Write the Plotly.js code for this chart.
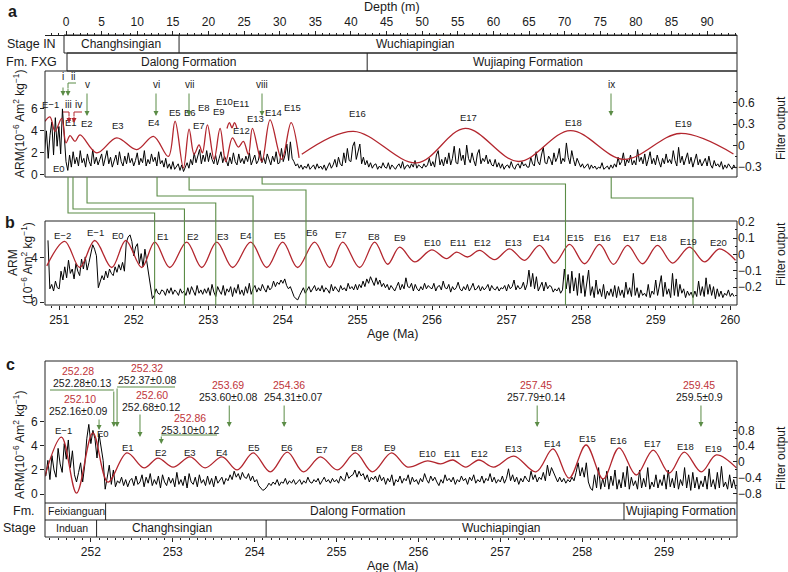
<!DOCTYPE html>
<html><head><meta charset="utf-8">
<script src="https://cdn.plot.ly/plotly-3.0.1.min.js"></script>
<style>html,body{margin:0;padding:0;background:#fff;}#chart{width:788px;height:572px;}</style>
</head><body><div id="chart"></div>
<script>
// ===================== DATA =====================
// Panel a: ARM vs depth (m), regular sampling
const depthA_start = -3.0, depthA_step = 0.25;
const armA = [
2.2,4.0,1.5,3.6,4.8,1.8,5.2,2.6,4.4,1.9,6.0,3.5,
1.2,0.4,1.8,0.7,2.1,1.0,1.6,0.8,2.2,1.1,1.5,0.7,1.9,1.2,0.8,2.3,1.0,1.6,0.9,1.4,
1.9,0.8,1.4,2.2,1.0,1.6,0.7,1.3,1.8,0.9,2.1,1.2,0.8,1.7,1.0,2.0,1.1,1.5,0.8,1.3,
2.0,0.9,1.5,1.1,2.2,0.8,1.4,1.0,1.9,1.2,1.6,0.8,2.1,1.0,1.3,0.7,1.5,0.6,1.0,0.5,
1.2,0.5,0.8,1.0,0.4,0.9,0.3,0.7,1.1,0.6,1.4,0.9,2.0,1.1,1.6,2.3,1.0,1.8,1.2,2.2,
1.2,2.0,1.4,1.0,1.8,0.9,1.5,2.1,1.1,1.7,1.3,0.8,1.6,1.0,2.0,1.2,0.9,1.9,1.1,1.5,
1.0,1.7,1.2,2.0,0.9,1.4,1.8,1.0,1.3,2.2,1.1,1.6,1.0,1.9,1.3,0.9,1.7,1.2,2.1,1.0,
1.1,2.4,1.2,1.8,2.8,1.3,3.0,1.5,1.2,0.8,1.0,0.6,0.9,0.5,0.8,0.6,1.0,0.5,0.7,0.9,
0.5,1.0,0.6,0.8,0.5,0.9,0.4,0.8,1.1,0.6,0.9,1.4,0.7,1.6,1.0,0.8,2.0,1.1,2.4,1.3,
1.2,2.6,3.0,1.4,2.2,2.8,1.0,1.6,0.9,1.3,0.7,1.1,0.6,0.9,1.0,0.5,0.8,0.6,1.1,0.7,
0.6,1.1,0.5,0.9,0.7,0.5,0.8,1.0,0.6,1.2,0.5,0.8,0.9,0.6,1.0,0.7,1.3,0.6,0.9,0.7,
0.6,1.0,0.7,0.9,1.5,0.8,1.2,0.7,1.8,2.2,0.9,1.4,0.8,1.6,1.0,2.0,0.9,1.5,2.6,1.1,
1.0,2.4,1.3,1.8,0.9,2.7,1.5,1.1,2.0,1.3,0.8,1.9,2.3,1.0,1.5,1.2,1.8,1.0,1.4,0.9,
0.8,1.4,0.7,1.1,0.6,1.0,0.5,0.8,0.9,0.6,1.2,0.7,0.5,0.9,1.0,0.6,1.2,0.8,1.0,0.7,
0.7,1.6,1.0,0.8,2.1,1.2,0.9,1.8,2.5,1.1,1.0,1.7,1.4,0.9,2.0,1.2,1.6,2.4,1.0,1.5,
1.2,2.9,1.6,1.0,2.2,1.4,0.8,1.5,1.1,0.7,1.0,0.6,0.8,1.0,0.5,0.9,0.6,0.8,0.5,0.7,
0.6,1.1,0.5,0.7,0.8,0.5,0.9,0.6,1.0,0.7,1.6,0.9,1.2,2.0,0.8,1.4,1.1,1.8,0.9,1.3,
0.9,2.3,1.2,1.6,1.0,1.9,0.8,1.4,2.1,1.0,1.5,0.9,1.8,1.2,0.7,1.5,1.0,1.9,1.1,1.4,
1.0,2.2,1.3,0.8,2.5,1.1,1.7,0.9,1.4,2.0,1.0,1.6,0.7,1.2,1.9,0.9,1.4,0.8,1.1,1.5,
0.8,1.7,0.9,0.6,1.3,0.8,1.0,0.7,1.2,0.5,0.9,0.6,1.0,0.7,0.5,0.9,0.6];
// Panel a: filter output (extrema)
const filtA_depth = [-2.95,-2.25,-1.54,-0.61,0.0,0.56,1.26,1.97,4.31,7.12,9.93,12.27,14.37,15.31,16.48,17.28,17.98,18.68,19.15,19.85,20.79,21.63,22.43,23.36,24.2,24.9,25.61,26.17,27.48,28.65,30.29,31.6,32.72,32.9,33.1,40.35,49.25,56.04,63.53,70.8,78.3,86.2,93.7];
const filtA = [0.34,0.40,0.20,0.38,0.04,0.14,0.06,0.15,-0.10,0.11,-0.055,0.13,-0.15,0.34,-0.31,0.23,-0.12,0.01,-0.10,0.29,-0.19,0.24,-0.22,0.11,-0.02,0.06,-0.12,0.24,-0.22,0.36,-0.19,0.32,-0.17,null,-0.12,0.20,-0.24,0.24,-0.22,0.21,-0.19,0.17,-0.115];
const filtA_arc_depth = [22.6,22.95,23.3,23.65,24.0];
const filtA_arc = [0.24,0.32,0.25,0.32,0.24];

// Panel b: ARM vs age (Ma)
const ageB_start = 250.85, ageB_step = 0.025;
const armB = [
5.6,1.2,1.6,1.0,1.9,1.3,
1.2,2.8,2.0,3.2,2.2,3.8,2.6,3.0,2.1,3.5,2.8,2.4,3.9,3.0,4.1,2.9,3.6,4.6,5.2,4.8,
4.2,1.3,1.8,2.4,2.0,2.8,2.2,3.0,2.6,2.4,3.2,2.7,3.4,2.9,3.6,2.8,5.4,5.9,6.1,5.5,
4.2,5.0,5.3,3.5,4.4,3.2,4.8,3.6,2.6,1.5,0.3,0.6,1.2,0.8,0.7,1.1,1.0,0.6,1.2,0.8,
1.3,0.7,1.1,0.9,0.6,1.2,0.8,1.0,0.6,1.3,0.7,1.4,0.9,0.6,1.5,0.8,1.1,0.7,1.2,0.8,
1.3,0.6,1.6,0.9,0.5,1.4,1.0,0.7,1.5,0.6,1.2,0.9,1.4,0.5,1.3,0.8,1.6,0.7,1.1,0.6,
1.4,0.8,1.7,0.7,1.2,1.5,0.9,1.3,1.0,1.6,1.2,0.9,1.5,1.1,1.3,1.9,1.4,1.8,1.6,2.0,
1.7,2.1,1.5,1.2,1.4,0.9,0.5,0.3,0.2,0.6,0.9,1.3,0.8,1.1,1.4,0.9,1.2,1.5,1.0,1.3,
1.0,1.5,0.9,1.3,1.1,0.8,1.6,1.0,1.4,1.2,0.9,1.5,1.1,1.3,1.0,1.7,1.2,1.4,1.1,1.6,
1.1,1.6,1.3,1.9,1.4,2.1,1.7,2.3,1.8,1.5,2.2,1.6,2.0,1.4,1.7,1.3,1.6,1.1,1.5,1.2,
1.0,1.4,1.8,1.1,1.6,1.2,2.2,1.4,1.3,1.7,1.0,1.6,1.2,1.0,1.4,1.1,1.7,1.2,1.5,1.3,
1.2,1.7,1.0,1.4,1.5,1.1,1.9,1.3,1.2,1.6,0.9,1.4,1.1,1.3,1.8,1.2,1.0,1.4,1.1,1.6,
1.0,1.3,1.7,1.1,1.2,1.5,1.0,1.4,1.1,1.3,1.6,1.0,1.5,1.2,1.1,1.4,1.0,1.3,1.2,1.5,
1.0,1.6,1.2,1.4,2.0,1.1,1.5,1.2,1.3,1.8,1.1,1.6,2.9,1.4,2.6,1.2,2.3,1.0,1.5,1.8,
1.0,1.8,1.2,1.5,1.4,0.9,1.2,1.0,1.3,0.8,1.1,3.0,1.2,2.5,0.8,2.8,1.0,2.2,0.6,2.6,
0.8,2.4,0.5,1.8,2.9,0.6,1.4,0.4,2.0,0.7,1.2,0.5,1.6,0.3,1.0,0.6,1.2,0.5,1.5,0.4,
1.4,0.6,1.1,0.4,1.8,0.7,1.3,0.5,2.6,0.6,1.3,0.4,1.1,0.6,0.8,0.5,1.6,0.4,1.0,0.7,
2.0,0.6,1.4,2.4,0.5,1.8,0.7,1.2,0.4,2.6,0.6,2.1,0.5,1.6,0.8,1.2,0.4,1.0,0.6,0.9,
0.4,1.0,0.5,1.9,0.6,1.4,0.5,2.2,0.7,1.6,0.6,1.4,0.3,1.2,0.5,1.0,0.4,0.8,0.6,1.1,
0.5,0.8,0.5];
const filtB_age = [250.834,251.075,251.276,251.477,251.705,251.893,252.107,252.282,252.483,252.710,252.912,253.113,253.327,253.568,253.783,253.997,254.198,254.426,254.627,254.802,255.029,255.231,255.405,255.566,255.767,255.995,256.196,256.330,256.477,256.638,256.839,257.040,257.241,257.442,257.643,257.845,258.046,258.247,258.434,258.622,258.823,259.024,259.225,259.453,259.654,259.855,260.070];
const filtB = [-0.07,0.08,-0.08,0.085,-0.08,0.085,-0.08,0.075,-0.08,0.075,-0.08,0.075,-0.08,0.075,-0.08,0.075,-0.08,0.075,-0.08,0.075,-0.08,0.075,-0.06,0.044,-0.046,0.028,-0.026,0.014,-0.016,0.024,-0.032,0.034,-0.036,0.055,-0.053,0.061,-0.057,0.061,-0.061,0.055,-0.057,0.055,-0.053,0.044,-0.046,0.034,-0.036];

// Panel c: ARM vs age (Ma)
const ageC_start = 251.45, ageC_step = 0.025;
const armC = [
1.5,2.8,
1.2,3.2,2.0,1.4,3.8,2.5,1.8,4.2,2.9,4.5,2.2,3.6,1.6,1.0,1.8,2.6,1.0,2.4,4.6,5.8,
4.2,5.3,4.6,3.0,5.0,4.0,2.8,0.4,1.6,2.4,0.8,2.0,0.6,1.1,0.9,1.4,0.7,1.2,0.6,1.1,
1.3,0.7,1.5,0.8,1.0,1.6,0.6,1.4,0.9,1.7,0.7,1.2,0.8,1.5,0.5,1.6,1.0,0.7,1.4,0.9,
1.3,0.6,1.8,0.8,1.2,0.7,1.5,0.5,1.7,1.0,0.8,1.4,0.6,1.6,0.9,1.2,0.7,1.5,0.8,1.3,
0.6,1.5,0.9,1.2,1.4,0.8,1.3,1.1,1.6,1.2,1.9,1.4,1.7,1.2,1.8,1.4,1.3,1.7,1.1,1.5,
1.0,1.2,0.7,0.5,0.3,0.4,0.6,0.9,0.7,1.0,0.8,1.2,0.7,1.0,0.9,1.3,0.8,1.1,0.9,1.2,
0.8,1.0,1.2,0.8,1.1,0.9,1.4,1.0,0.9,1.2,1.0,1.3,0.8,1.1,1.4,1.0,1.2,0.9,1.3,1.0,
1.2,0.9,1.5,1.2,1.1,1.8,1.3,1.5,1.6,2.0,1.4,1.9,1.5,1.7,1.2,1.6,1.0,1.4,1.2,1.5,
1.0,1.6,1.1,1.4,0.8,1.3,1.0,1.6,0.7,1.2,1.0,1.5,0.9,1.3,1.1,1.6,0.8,1.4,1.0,1.2,
0.8,1.3,1.0,1.7,1.2,0.9,1.5,1.1,1.4,1.0,0.7,1.2,0.9,1.6,1.1,1.3,1.0,1.4,0.8,1.2,
1.0,1.5,1.1,1.3,0.8,1.4,1.1,1.6,0.9,1.2,1.0,1.5,0.9,1.3,1.1,1.7,1.0,1.4,0.9,1.2,
1.0,1.5,0.9,1.3,2.1,1.1,1.6,1.0,1.4,0.8,1.3,1.0,1.5,1.2,1.0,1.9,1.2,1.6,1.0,1.4,
1.2,1.8,1.1,2.4,1.5,2.2,1.8,1.3,1.0,1.4,1.0,1.3,0.9,1.2,1.0,1.4,1.1,1.8,2.6,1.5,
2.2,1.4,2.6,1.0,0.5,0.3,1.6,0.5,2.2,0.4,1.3,0.6,1.9,0.4,1.5,0.7,2.0,0.4,1.2,0.5,
1.8,0.6,2.3,0.4,1.4,0.7,1.1,0.4,2.0,0.5,1.3,0.6,2.2,0.4,1.0,0.6,1.6,0.5,1.2,0.7,
1.6,0.4,2.0,0.6,1.3,0.5,1.9,0.4,1.2,0.7,2.2,0.5,1.6,0.3,1.8,0.5,1.4,0.4,1.1,0.6,
1.5,0.4,2.1,0.6,1.2,0.4,1.8,0.5,2.3,0.6,1.0,0.4,1.6,0.5,1.2,0.4];
const filtC_age = [251.437,251.641,251.825,252.024,252.208,252.441,252.649,252.820,253.004,253.212,253.395,253.603,253.787,253.983,254.191,254.399,254.595,254.803,255.011,255.231,255.439,255.672,255.868,256.113,256.272,256.419,256.578,256.737,256.920,257.165,257.435,257.643,257.839,258.047,258.255,258.450,258.659,258.867,259.063,259.246,259.454,259.638,259.883];
const filtC = [-0.37,0.63,-0.79,0.74,-0.51,0.23,-0.15,0.10,-0.13,0.13,-0.15,0.13,-0.20,0.23,-0.25,0.25,-0.25,0.13,-0.20,0.23,-0.25,0.23,-0.13,0.03,-0.05,0.05,-0.13,0.05,-0.13,0.15,-0.25,0.33,-0.41,0.43,-0.43,0.36,-0.33,0.30,-0.28,0.25,-0.25,0.18,-0.15];

// Labels
const eLabelsA = ['E−1','E0','E1','E2','E3','E4','E5','E6','E7','E8','E9','E10','E11','E12','E13','E14','E15','E16','E17','E18','E19'];
const eLabelsB = ['E−2','E−1','E0','E1','E2','E3','E4','E5','E6','E7','E8','E9','E10','E11','E12','E13','E14','E15','E16','E17','E18','E19','E20'];
const eLabelsC = ['E−1','E0','E1','E2','E3','E4','E5','E6','E7','E8','E9','E10','E11','E12','E13','E14','E15','E16','E17','E18','E19'];
const romanA = ['i','ii','iii','iv','v','vi','vii','viii','ix'];
const tieDepth = [0.28,0.98,2.95,12.78,17.28,27.53,76.54];
const tieAge = [252.28,252.68,253.10,253.60,254.31,257.79,259.5];
const tunedAge = [252.10,252.28,252.32,252.60,252.86,253.69,254.36,257.45,259.45];
const tunedText = ['252.10','252.28','252.32','252.60','252.86','253.69','254.36','257.45','259.45'];
const radioText = ['252.16±0.09','252.28±0.13','252.37±0.08','252.68±0.12','253.10±0.12','253.60±0.08','254.31±0.07','257.79±0.14','259.5±0.9'];
const stageA = ['Changhsingian','Wuchiapingian'];
const stageA_base = [-0.28,15.87];
const fmA = ['Dalong Formation','Wujiaping Formation'];
const fmA_base = [0.14,42.28];
const fmC = ['Feixianguan','Dalong Formation','Wujiaping Formation'];
const fmC_base = [252.18,258.51];
const stageC = ['Induan','Changhsingian','Wuchiapingian'];
const stageC_base = [252.07,254.14];

// ===================== LAYOUT =====================
const W = 788, H = 572;
const FONT = 'Liberation Sans, Arial, Helvetica, sans-serif';
const GREEN = '#5b8c46', RED = '#b3262e', REDTXT = '#c0343a', INK = '#1a1a1a';
const L = 45, R = 737;
const rA = [-2.95, 94.2], rB = [250.81, 260.09], rC = [251.44, 259.89];
const fx = px => px / W, fy = py => 1 - py / H;
const pxA = d => L + (d - rA[0]) / (rA[1] - rA[0]) * (R - L);
const pxB = a => L + (a - rB[0]) / (rB[1] - rB[0]) * (R - L);
const pxC = a => L + (a - rC[0]) / (rC[1] - rC[0]) * (R - L);

const ann = [], shapes = [];
function T(px, py, text, size, color, opts) {
  const o = Object.assign({xanchor:'center', yanchor:'middle', textangle:0}, opts || {});
  ann.push({xref:'paper', yref:'paper', x:fx(px), y:fy(py), text:text, showarrow:false,
    xanchor:o.xanchor, yanchor:o.yanchor, textangle:o.textangle,
    font:{family:FONT, size:size, color:color || INK}});
}
function ARW(px, tipPy, len, color) {
  ann.push({xref:'paper', yref:'paper', x:fx(px), y:fy(tipPy), ax:0, ay:-len, text:'',
    showarrow:true, arrowhead:2, arrowsize:1, arrowwidth:1, arrowcolor:color});
}
function rect(x0, y0, x1, y1) {
  shapes.push({type:'rect', xref:'paper', yref:'paper', x0:fx(x0), x1:fx(x1), y0:fy(y1), y1:fy(y0),
    line:{color:'#222', width:1}, fillcolor:'rgba(0,0,0,0)'});
}
function path(pts, color, width) {
  shapes.push({type:'path', xref:'paper', yref:'paper',
    path:'M' + pts.map(p => fx(p[0]) + ',' + fy(p[1])).join('L'),
    line:{color:color, width:width || 1}});
}

// frames and strata rows
rect(L, 71, R, 177);
rect(64, 35, R, 53);
rect(67, 53, R, 71);
path([[pxA(stageA_base[1]),35],[pxA(stageA_base[1]),53]], '#222');
path([[pxA(fmA_base[1]),53],[pxA(fmA_base[1]),71]], '#222');
rect(L, 221, R, 305);
rect(L, 361, R, 537);
path([[L,503],[R,503]], '#222');
path([[L,520],[R,520]], '#222');
fmC_base.forEach(a => path([[pxC(a),503],[pxC(a),520]], '#222'));
stageC_base.forEach(a => path([[pxC(a),520],[pxC(a),537]], '#222'));

// strata labels
T(31, 44, 'Stage IN', 12.5);
T(31, 62, 'Fm. FXG', 12.5);
T(121, 44, stageA[0], 12);
T(415, 44, stageA[1], 12);
T(188, 62, fmA[0], 12);
T(528, 62, fmA[1], 12);
T(37, 511, 'Fm.', 12.5, INK, {xanchor:'right'});
T(38, 528, 'Stage', 12.5, INK, {xanchor:'right'});
T(76, 511, fmC[0], 10.5);
T(357, 511, fmC[1], 12);
T(681, 511, fmC[2], 12);
T(72, 528, stageC[0], 10.5);
T(172, 528, stageC[1], 12);
T(501, 528, stageC[2], 12);

// panel letters & titles
T(12, 12, '<b>a</b>', 16);
T(10, 223, '<b>b</b>', 16);
T(10, 364, '<b>c</b>', 16);
T(392, 7, 'Depth (m)', 12.5);
T(392, 334, 'Age (Ma)', 12.5);
T(392, 566, 'Age (Ma)', 12.5);
const armTitle = 'ARM(10<sup>−6</sup> Am<sup>2</sup> kg<sup>−1</sup>)';
T(19, 124, armTitle, 12, INK, {textangle:-90});
T(13, 263, 'ARM', 12, INK, {textangle:-90});
T(27, 263, '(10<sup>−6</sup> Am<sup>2</sup> kg<sup>−1</sup>)', 12, INK, {textangle:-90});
T(19, 445, armTitle, 12, INK, {textangle:-90});
T(781, 128, 'Filter output', 12, INK, {textangle:-90});
T(781, 254, 'Filter output', 12, INK, {textangle:-90});
T(781, 458, 'Filter output', 12, INK, {textangle:-90});

// E labels
const posA = [[50,105],[59,168],[71,122],[87,124],[118,125],[154,122],[175,113],[190,112],[199,125],[204,108],[219,111],[224,101],[241,103],[242,130],[256,119],[273,113],[292,108],[357,114],[468,117],[573,122],[683,124]];
eLabelsA.forEach((t,i) => T(posA[i][0], posA[i][1], t, 9.5));
const posB = [[62,235],[95,233],[118,235],[163,236],[193,236],[223,236],[246,235],[280,235],[312,233],[341,234],[374,236],[400,237],[432,242],[458,243],[482,243],[513,242],[541,238],[575,238],[602,238],[631,238],[658,238],[688,241],[718,242]];
eLabelsB.forEach((t,i) => T(posB[i][0], posB[i][1], t, 9.5));
const posC = [[63,430],[103,433],[128,447],[161,452],[190,452],[222,452],[254,447],[287,447],[322,449],[357,447],[390,447],[427,453],[452,453],[479,453],[513,448],[552,443],[587,438],[618,440],[652,443],[685,446],[713,448]];
eLabelsC.forEach((t,i) => T(posC[i][0], posC[i][1], t, 9.5));

// roman numeral markers, panel a
const romPos = [[63,77],[73,76],[68,105],[78,105],[87,85],[156,85],[189,85],[262,85],[611,85]];
romanA.forEach((t,i) => T(romPos[i][0], romPos[i][1], t, 10));
ARW(63, 96, 10, GREEN);
path([[76,83],[68,83],[68,88]], GREEN);
ARW(68, 96, 9, GREEN);
path([[63,112],[69,112],[69,116]], RED);
path([[74,116],[74,112],[82,112]], RED);
ARW(69, 123, 8, RED);
ARW(74, 123, 8, RED);
[87,156,189,262,611].forEach(x => ARW(x, 116, 24, GREEN));

// green connectors a -> b
const tieLevel = [213,209,203,196,190,184,198];
tieDepth.forEach((d,i) => {
  const xa = pxA(d), xb = pxB(tieAge[i]);
  path([[xa,177],[xa,tieLevel[i]],[xb,tieLevel[i]],[xb,305]], GREEN, 1.1);
});

// panel c dating annotations
const redPos = [[80,399],[78,371],[147,368],[152,395],[190,418],[228,385],[289,385],[536,385],[699,385]];
const blkPos = [[78,411],[82,383],[147,380],[151,407],[190,430],[228,397],[293,397],[536,397],[699,397]];
tunedText.forEach((t,i) => T(redPos[i][0], redPos[i][1], t, 10.5, REDTXT));
radioText.forEach((t,i) => T(blkPos[i][0], blkPos[i][1], t, 10.5, INK));
const tipY = [430,427,427,437,444,427,427,427,427];
const tailY = [418,390,387,413,435,404,404,404,404];
tunedAge.forEach((a,i) => ARW(pxC(a), tipY[i], tipY[i]-tailY[i], GREEN));
path([[50,390],[pxC(tunedAge[1]),390]], GREEN, 1.1);
path([[pxC(tunedAge[2]),387],[175,387]], GREEN, 1.1);
path([[pxC(tunedAge[4]),435],[217,435]], GREEN, 1.1);

// ===================== TRACES =====================
const blk = {color:'#000', width:1};
const redL = {color:RED, width:1.3, shape:'spline', smoothing:1};
const traces = [
  {type:'scatter', mode:'lines', x:filtA_depth, y:filtA, xaxis:'x', yaxis:'y2', line:redL, connectgaps:false},
  {type:'scatter', mode:'lines', x:filtA_arc_depth, y:filtA_arc, xaxis:'x', yaxis:'y2', line:redL},
  {type:'scatter', mode:'lines', x0:depthA_start, dx:depthA_step, y:armA, xaxis:'x', yaxis:'y', line:blk},
  {type:'scatter', mode:'lines', x:filtB_age, y:filtB, xaxis:'x2', yaxis:'y4', line:redL},
  {type:'scatter', mode:'lines', x0:ageB_start, dx:ageB_step, y:armB, xaxis:'x2', yaxis:'y3', line:blk},
  {type:'scatter', mode:'lines', x0:ageC_start, dx:ageC_step, y:armC, xaxis:'x3', yaxis:'y5', line:blk},
  {type:'scatter', mode:'lines', x:filtC_age, y:filtC, xaxis:'x3', yaxis:'y6', line:redL}
];

const tf = {family:FONT, size:12, color:INK};
const base = {showgrid:false, zeroline:false, tickfont:tf, ticklen:4, tickcolor:'#222', tickwidth:1, fixedrange:true};
const layout = {
  width:W, height:H, margin:{l:0,r:0,t:0,b:0}, paper_bgcolor:'#fff', plot_bgcolor:'rgba(0,0,0,0)',
  showlegend:false, hovermode:false,
  xaxis: Object.assign({}, base, {domain:[fx(L),fx(R)], range:rA, anchor:'free', position:fy(35), side:'top',
    tick0:0, dtick:5, ticks:'outside', showline:true, linecolor:'#222', linewidth:1,
    minor:{dtick:1, tick0:0, ticks:'outside', ticklen:2, tickcolor:'#222'}}),
  yaxis: Object.assign({}, base, {domain:[fy(177),fy(71)], range:[-0.2,9.45], anchor:'x', tickmode:'array', tickvals:[0,2,4,6], ticks:'outside'}),
  yaxis2: Object.assign({}, base, {overlaying:'y', side:'right', anchor:'x', range:[-0.436,1.04], tickmode:'array', tickvals:[-0.3,0,0.3,0.6], ticks:'inside',
    minor:{tickmode:'array', tickvals:[-0.15,0.15,0.45,0.75], ticks:'inside', ticklen:2, tickcolor:'#222'}}),
  xaxis2: Object.assign({}, base, {domain:[fx(L),fx(R)], range:rB, anchor:'y3', side:'bottom', tick0:251, dtick:1, ticks:'outside',
    minor:{dtick:0.1, tick0:251, ticks:'outside', ticklen:2, tickcolor:'#222'}}),
  yaxis3: Object.assign({}, base, {domain:[fy(305),fy(221)], range:[-0.27,7.36], anchor:'x2', tickmode:'array', tickvals:[0,4], ticks:'outside'}),
  yaxis4: Object.assign({}, base, {overlaying:'y3', side:'right', anchor:'x2', range:[-0.309,0.204], tickmode:'array', tickvals:[-0.2,-0.1,0,0.1,0.2], ticks:'inside',
    minor:{tickmode:'array', tickvals:[-0.25,-0.15,-0.05,0.05,0.15], ticks:'inside', ticklen:2, tickcolor:'#222'}}),
  xaxis3: Object.assign({}, base, {domain:[fx(L),fx(R)], range:rC, anchor:'free', position:fy(537), side:'bottom', tick0:252, dtick:1, ticks:'outside',
    minor:{dtick:0.1, tick0:252, ticks:'outside', ticklen:2, tickcolor:'#222'}}),
  yaxis5: Object.assign({}, base, {domain:[fy(503),fy(361)], range:[-0.75,11.08], anchor:'x3', tickmode:'array', tickvals:[0,2,4,6], ticks:'outside'}),
  yaxis6: Object.assign({}, base, {overlaying:'y5', side:'right', anchor:'x3', range:[-1.04,2.56], tickmode:'array', tickvals:[-0.8,-0.4,0,0.4,0.8], ticks:'inside',
    minor:{tickmode:'array', tickvals:[-0.6,-0.2,0.2,0.6,1.0], ticks:'inside', ticklen:2, tickcolor:'#222'}}),
  annotations: ann,
  shapes: shapes
};
Plotly.newPlot('chart', traces, layout, {staticPlot:true, displayModeBar:false});
</script></body></html>
